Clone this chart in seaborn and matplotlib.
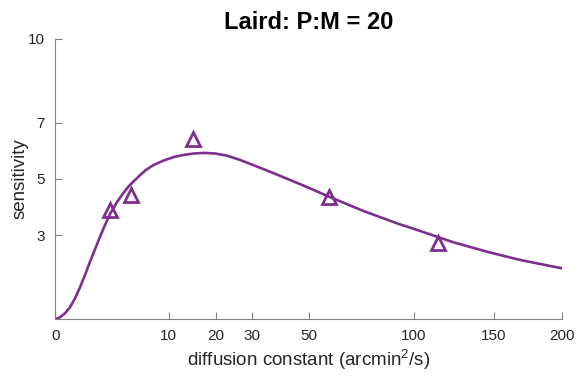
import numpy as np
import pandas as pd
import matplotlib
matplotlib.use("Agg")
import matplotlib.pyplot as plt
import seaborn as sns

# fitted curve
curve_d = [0, 0.0158, 0.0705, 0.164, 0.297, 0.469, 0.680, 0.930, 1.219, 1.547, 1.914,
           2.320, 2.926, 3.507, 4.140, 4.937, 5.578, 6.257, 6.976, 7.733, 9.366, 11.155,
           13.100, 15.201, 17.458, 19.873, 22.895, 26.590, 30.562, 34.843, 39.370,
           44.172, 49.291, 58.859, 74.006, 90.939, 103.78, 113.51, 123.61, 145.24,
           168.54, 200]
curve_s = [0, 0.061, 0.204, 0.418, 0.739, 1.132, 1.571, 2.046, 2.489, 2.939, 3.357,
           3.750, 4.161, 4.457, 4.725, 4.964, 5.136, 5.296, 5.421, 5.525, 5.679, 5.796,
           5.868, 5.915, 5.930, 5.910, 5.835, 5.679, 5.493, 5.304, 5.111,
           4.914, 4.714, 4.350, 3.857, 3.418, 3.143, 2.939, 2.739, 2.404,
           2.107, 1.811]

# measured data points
data_d = [2.3, 4.5, 14.8, 58.4, 113.9]
data_s = [3.89, 4.43, 6.43, 4.37, 2.70]

xticks = [0, 10, 20, 30, 50, 100, 150, 200]
yticks = [3, 5, 7, 10]

title = "Laird: P:M = 20"
xlabel = "diffusion constant (arcmin$^2$/s)"
ylabel = "sensitivity"

sns.set_theme(style="ticks")
plt.rcParams['font.family'] = ['Liberation Sans', 'DejaVu Sans']
plt.rcParams['mathtext.fontset'] = 'custom'
plt.rcParams['mathtext.rm'] = 'Liberation Sans'
plt.rcParams['mathtext.it'] = 'Liberation Sans'

color = "#7E2F8E"
axis_grey = "#808080"
text_grey = "#262626"

fig = plt.figure(figsize=(5.78, 3.78), dpi=100)
ax = fig.add_axes([0.096, 0.156, 0.876, 0.741])

curve_df = pd.DataFrame({"D": curve_d, "S": curve_s})
pts_df = pd.DataFrame({"D": data_d, "S": data_s})

sns.lineplot(data=curve_df, x="D", y="S", ax=ax, color=color, lw=1.9, sort=False)
ax.plot(pts_df["D"], pts_df["S"], linestyle="none", marker="^", markersize=10,
        markerfacecolor="none", markeredgecolor=color, markeredgewidth=2.0)

ax.set_xscale("function", functions=(lambda v: np.sqrt(np.clip(v, 0, None)),
                                     lambda v: np.square(v)))
ax.set_xlim(0, 200)
ax.set_ylim(0, 10)
ax.set_xticks(xticks)
ax.set_xticklabels([str(t) for t in xticks])
ax.set_yticks(yticks)
ax.set_yticklabels([str(t) for t in yticks])
ax.minorticks_off()

for side in ["top", "right"]:
    ax.spines[side].set_visible(False)
for side in ["left", "bottom"]:
    ax.spines[side].set_color(axis_grey)
    ax.spines[side].set_linewidth(0.8)

ax.tick_params(direction="in", length=5, width=0.8, color=axis_grey,
               labelsize=11, labelcolor=text_grey, pad=7.5)

ax.set_xlabel(xlabel, fontsize=13.5, color=text_grey, labelpad=3)
ax.set_ylabel(ylabel, fontsize=13.5, color=text_grey, labelpad=0)
ax.set_title(title, fontsize=17, fontweight="bold", color="black", pad=7)

fig.savefig("out.png", dpi=100)
